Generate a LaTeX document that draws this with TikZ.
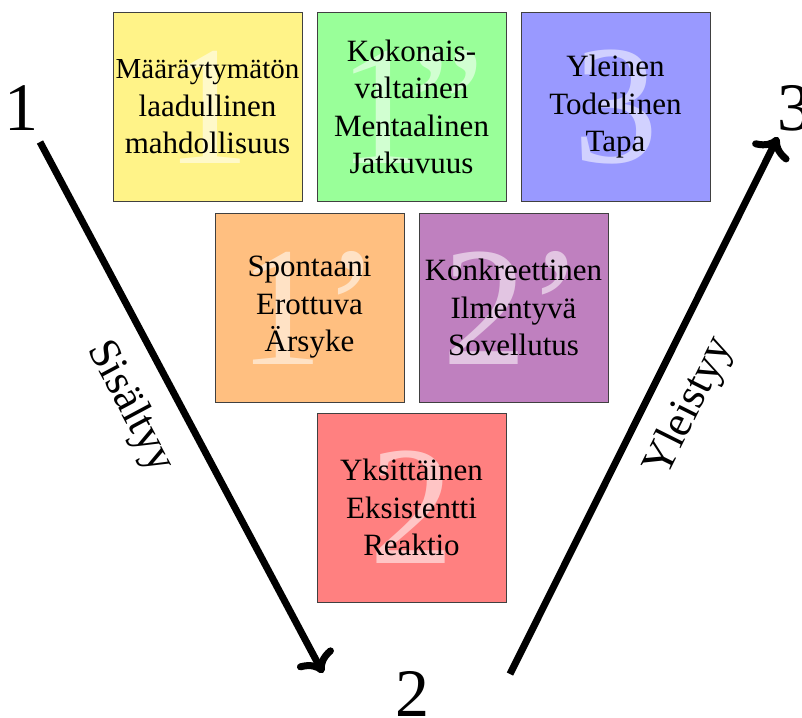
\documentclass[tikz,border=0pt]{standalone}
\usepackage{fontspec}
\setmainfont{Liberation Serif}
\usetikzlibrary{arrows.meta}
\definecolor{cyel}{RGB}{255,243,136}
\definecolor{cgrn}{RGB}{153,255,153}
\definecolor{cblu}{RGB}{153,153,255}
\definecolor{cora}{RGB}{255,191,128}
\definecolor{cpur}{RGB}{191,128,191}
\definecolor{cred}{RGB}{255,128,128}
\definecolor{cbord}{RGB}{64,64,64}
\tikzset{
  box/.style={draw=cbord, line width=0.8pt, minimum size=189pt, inner sep=0pt,
    align=center, font=\fontsize{31}{37.5}\selectfont},
  wmark/.style={text=white, text opacity=0.55, inner sep=0pt,
    font=\fontsize{170}{170}\selectfont},
  wm/.style={path picture={\node[wmark] at (path picture bounding box.center) {#1};}},
  bignum/.style={inner sep=0pt, font=\fontsize{68}{68}\selectfont},
  arrlabel/.style={inner sep=0pt, font=\fontsize{44}{44}\selectfont},
  bigarrow/.style={line width=7pt, -{Computer Modern Rightarrow[line cap=round, scale=1.15]}}
}
\begin{document}
\begin{tikzpicture}[x=1pt,y=-1pt]
\useasboundingbox (0,0) rectangle (802,717);
% top row
\node[box, fill=cyel, wm={1}] (yel) at (207.5,107)
  {\fontsize{29}{38.5}\selectfont Määräytymätön\\laadullinen\\mahdollisuus};
\node[box, fill=cgrn, wm={1\kern-0.08em\char"201D}] (grn) at (411.5,107)
  {Kokonais-\\valtainen\\Mentaalinen\\Jatkuvuus};
\node[box, fill=cblu, wm={3}] (blu) at (615.5,107)
  {Yleinen\\Todellinen\\Tapa};
% middle row
\node[box, fill=cora, wm={1’}] (ora) at (309.5,307.5)
  {Spontaani\\Erottuva\\Ärsyke};
\node[box, fill=cpur, wm={2’}] (pur) at (513.5,307.5)
  {Konkreettinen\\Ilmentyvä\\Sovellutus};
% bottom
\node[box, fill=cred, wm={2}] (red) at (411.5,507.5)
  {Yksittäinen\\Eksistentti\\Reaktio};
% corner numbers
\node[bignum] (n1) at (22,108) {1};
\node[bignum] (n2) at (412,694) {2};
\node[bignum] (n3) at (794,108) {3};
% arrows
\coordinate (a1s) at (40,142);
\coordinate (a1e) at (323,673);
\coordinate (a2s) at (510,674);
\coordinate (a2e) at (778,137);
\draw[bigarrow] (a1s) -- (a1e);
\draw[bigarrow] (a2s) -- (a2e);
\node[arrlabel, rotate=-61.9] (sis) at (130,407) {Sisältyy};
\node[arrlabel, rotate=63.5] (yle) at (690,407) {Yleistyy};
\end{tikzpicture}
\end{document}
